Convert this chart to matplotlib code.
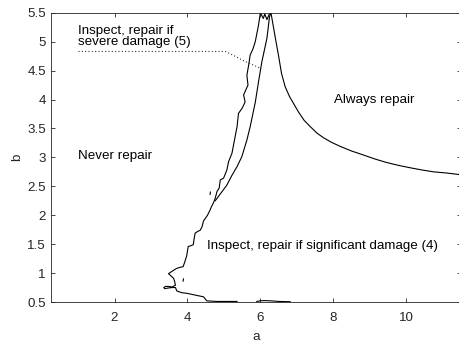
import numpy as np
import matplotlib.pyplot as plt

plt.rcParams['font.family'] = ['Liberation Sans', 'DejaVu Sans']

# boundary between "never repair" and the inspect regions (left edge of the wedge,
# running down to the bottom of the plot)
never_a = [6.00, 5.95, 5.86, 5.80, 5.72, 5.68, 5.63, 5.66, 5.54, 5.58, 5.54, 5.50,
           5.40, 5.36, 5.29, 5.22, 5.13, 5.08, 4.99, 4.90, 4.87, 4.81, 4.76, 4.71,
           4.66, 4.62, 4.55, 4.44, 4.40, 4.35, 4.28, 4.21, 4.18, 4.16, 4.08, 4.02,
           3.98, 3.92, 3.88, 3.80, 3.70, 3.60, 3.48, 3.55, 3.62, 3.65, 3.67, 3.58,
           3.48, 3.40, 3.35, 3.38, 3.45, 3.58, 3.67, 3.71, 3.85, 3.99, 4.21, 4.44,
           4.53, 4.80, 5.36]
never_b = [5.50, 5.29, 5.00, 4.88, 4.77, 4.60, 4.42, 4.25, 4.08, 3.96, 3.90, 3.85,
           3.76, 3.53, 3.30, 3.07, 2.93, 2.78, 2.64, 2.61, 2.47, 2.41, 2.29, 2.21,
           2.15, 2.09, 2.00, 1.90, 1.80, 1.74, 1.72, 1.69, 1.58, 1.49, 1.47, 1.46,
           1.30, 1.18, 1.11, 1.10, 1.08, 1.04, 0.99, 0.95, 0.91, 0.85, 0.79, 0.76,
           0.77, 0.77, 0.75, 0.73, 0.74, 0.75, 0.75, 0.69, 0.66, 0.65, 0.62, 0.59,
           0.52, 0.51, 0.51]

# short piece of the same boundary lying along b = 0.5
floor_a = [5.90, 6.00, 6.10, 6.30, 6.50, 6.82]
floor_b = [0.51, 0.52, 0.525, 0.52, 0.51, 0.505]

# right edge of the wedge (severe damage region)
severe_a = [6.29, 6.25, 6.18, 6.04, 5.95, 5.86, 5.72, 5.63, 5.49, 5.36, 5.22,
            5.08, 4.95, 4.81, 4.76]
severe_b = [5.50, 5.43, 5.06, 4.65, 4.31, 3.95, 3.53, 3.30, 3.01, 2.84, 2.69,
            2.52, 2.41, 2.29, 2.25]

# peak zig-zag where the wedge meets the top of the plot
peak_a = [6.00, 6.08, 6.12, 6.18, 6.24, 6.29]
peak_b = [5.50, 5.40, 5.48, 5.38, 5.47, 5.50]

# boundary of the "always repair" region
always_a = [6.29, 6.40, 6.50, 6.58, 6.68, 6.80, 6.92, 7.05, 7.20, 7.37, 7.55,
            7.73, 7.95, 8.19, 8.50, 8.83, 9.15, 9.47, 9.80, 10.11, 10.45, 10.75,
            11.10, 11.50]
always_b = [5.50, 5.10, 4.75, 4.45, 4.22, 4.05, 3.92, 3.78, 3.64, 3.53, 3.42,
            3.34, 3.26, 3.19, 3.11, 3.04, 2.97, 2.91, 2.86, 2.82, 2.78, 2.75,
            2.73, 2.70]

# dotted pointer from the region 5 label into the wedge
pointer_a = [1.01, 5.04, 5.30, 5.54, 5.72, 6.00]
pointer_b = [4.83, 4.83, 4.75, 4.67, 4.62, 4.54]

fig = plt.figure(figsize=(4.59, 3.43), dpi=100)
ax = fig.add_axes([0.1105, 0.1195, 0.8937, 0.8434])

line_kw = dict(color='black', lw=0.8)
ax.plot(never_a, never_b, **line_kw)
ax.plot(floor_a, floor_b, **line_kw)
ax.plot(severe_a, severe_b, **line_kw)
ax.plot(peak_a, peak_b, **line_kw)
ax.plot(always_a, always_b, **line_kw)
# small isolated specks of the contour
ax.plot([4.62, 4.63], [2.36, 2.40], **line_kw)
ax.plot([3.88, 3.89], [0.86, 0.90], **line_kw)
ax.plot(pointer_a, pointer_b, color='#333333', lw=0.8, linestyle=(0, (1, 2)))

fs = 9.6
txt_kw = dict(fontsize=fs, color='black', va='center', ha='left')
ax.text(1.01, 5.09, 'Inspect, repair if\nsevere damage (5)', linespacing=0.85, **txt_kw)
ax.text(1.01, 3.02, 'Never repair', **txt_kw)
ax.text(8.01, 4.00, 'Always repair', **txt_kw)
ax.text(4.53, 1.47, 'Inspect, repair if significant damage (4)', **txt_kw)

ax.set_xlim(0.25, 11.5)
ax.set_ylim(0.5, 5.5)
ax.set_xticks([2, 4, 6, 8, 10])
ax.set_yticks(np.arange(0.5, 5.51, 0.5))
ax.set_yticklabels(['0.5', '1', '1.5', '2', '2.5', '3', '3.5', '4', '4.5', '5', '5.5'])
ax.tick_params(direction='in', length=3, width=0.6, colors='#262626',
               labelsize=fs, top=True, right=True)
ax.tick_params(axis='x', pad=7)
ax.tick_params(axis='y', pad=3.5)
for s in ax.spines.values():
    s.set_color('#262626')
    s.set_linewidth(0.6)
ax.set_xlabel('a', fontsize=fs, color='#262626', labelpad=5.5)
ax.set_ylabel('b', fontsize=fs, color='#262626', labelpad=3)

fig.savefig('out.png', dpi=100)
